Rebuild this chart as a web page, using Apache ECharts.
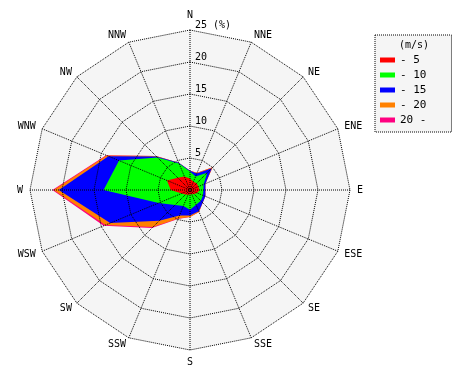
<!DOCTYPE html>
<html>
<head>
<meta charset="utf-8">
<script src="https://cdn.jsdelivr.net/npm/echarts@6/dist/echarts.min.js"></script>
<style>html,body{margin:0;padding:0;background:#fff}#c{width:470px;height:380px}</style>
</head>
<body>
<div id="c"></div>
<script>
// Compass directions, clockwise from north
var directions = ['N','NNE','NE','ENE','E','ESE','SE','SSE','S','SSW','SW','WSW','W','WNW','NW','NNW'];
// Cumulative frequency (%) by wind speed class, in compass order
var upTo5   = [1.8, 1.4, 1.5, 1.4, 1.5, 1.2, 0.9, 0.7, 0.7, 0.8, 1.0, 1.4, 3.0, 3.9, 2.7, 2.3];
var upTo10  = [2.9, 2.3, 3.8, 2.3, 2.1, 2.2, 2.4, 2.5, 3.1, 2.7, 3.3, 5.3, 13.5, 12.0, 7.2, 4.5];
var upTo15  = [3.0, 2.8, 4.8, 2.6, 2.4, 2.6, 2.8, 3.6, 4.0, 4.3, 6.8, 13.5, 20.5, 13.8, 7.4, 4.6];
var upTo20  = [3.0, 2.9, 5.0, 2.6, 2.4, 2.6, 2.8, 3.7, 4.2, 4.8, 8.2, 14.3, 21.3, 14.1, 7.5, 4.6];
var over20  = [3.0, 2.9, 5.0, 2.6, 2.4, 2.6, 2.8, 3.7, 4.2, 4.9, 8.4, 14.6, 21.5, 14.2, 7.5, 4.6];
var classNames = ['- 5', '- 10', '- 15', '- 20', '20 -'];
var radialTicks = [0, 5, 10, 15, 20, 25];
var radialMax = 25;

var colors = ['#ff0000', '#00ff00', '#0000ff', '#ff8000', '#ff0080'];
var FONT = 'DejaVu Sans Mono';
var DOT = { color: '#000', type: [1, 1], width: 1 };

// ECharts radar runs counter-clockwise: reorder compass list
function ccw(arr) { var o = [arr[0]]; for (var i = arr.length - 1; i >= 1; i--) o.push(arr[i]); return o; }

function makeIndicators(withLabels) {
  return ccw(directions).map(function (d, i) {
    var ind = { name: withLabels ? d : '', min: 0, max: radialMax };
    if (withLabels && i === 0) {
      ind.axisLabel = {
        show: true, margin: -5, align: 'left', verticalAlign: 'bottom',
        fontFamily: FONT, fontSize: 10, color: '#000',
        formatter: function (v) { return v === 0 ? '' : (v === radialMax ? v + ' (%)' : String(v)); }
      };
    }
    return ind;
  });
}

var layers = [upTo5, upTo10, upTo15, upTo20, over20];
var seriesData = [];
for (var k = layers.length - 1; k >= 0; k--) {
  seriesData.push({
    name: classNames[k],
    value: ccw(layers[k]),
    itemStyle: { color: colors[k] },
    lineStyle: { width: 0, color: colors[k] },
    areaStyle: { color: colors[k], opacity: 1 }
  });
}

var common = {
  center: [190, 190], radius: 160, startAngle: 90, shape: 'polygon',
  splitNumber: radialTicks.length - 1,
  axisTick: { show: false }
};

var chart = echarts.init(document.getElementById('c'), null, { renderer: 'canvas' });
chart.setOption({
  animation: false,
  backgroundColor: '#ffffff',
  title: {
    text: '(m/s)', left: 394, top: 35,
    textStyle: { fontFamily: FONT, fontSize: 10, fontWeight: 'normal', color: '#000' }
  },
  legend: {
    orient: 'vertical', left: 375, top: 35,
    data: classNames,
    itemWidth: 15, itemHeight: 5, itemGap: 3,
    padding: [19, 25, 6, 5],
    backgroundColor: '#f5f5f5', borderColor: '#000', borderWidth: 1, borderType: [1, 1],
    icon: 'rect',
    textStyle: { fontFamily: FONT, fontSize: 11, color: '#000', lineHeight: 12 },
    selectedMode: false
  },
  radar: [
    Object.assign({}, common, {
      z: 0,
      indicator: makeIndicators(false),
      axisName: { show: false },
      axisLine: { show: false },
      splitLine: { show: false },
      splitArea: { show: true, areaStyle: { color: ['#f5f5f5'] } },
      axisLabel: { show: false }
    }),
    Object.assign({}, common, {
      z: 5,
      indicator: makeIndicators(true),
      axisName: { color: '#000', fontFamily: FONT, fontSize: 10 },
      nameGap: 7,
      axisLine: { show: false },
      splitLine: { show: true, lineStyle: DOT },
      splitArea: { show: false },
      axisLabel: { show: false }
    })
  ],
  polar: { center: [190, 190], radius: 160 },
  angleAxis: {
    type: 'category', data: directions, startAngle: 90, clockwise: true, boundaryGap: false,
    z: 5,
    axisLine: { show: false }, axisTick: { show: false }, axisLabel: { show: false },
    splitLine: { show: true, lineStyle: DOT }, splitArea: { show: false }
  },
  radiusAxis: {
    type: 'value', min: 0, max: radialMax, z: 5,
    axisLine: { show: false }, axisTick: { show: false }, axisLabel: { show: false },
    splitLine: { show: false }, splitArea: { show: false }
  },
  series: [{
    type: 'radar',
    radarIndex: 0,
    symbol: 'none',
    z: 1,
    data: seriesData
  }]
});
</script>
</body>
</html>
